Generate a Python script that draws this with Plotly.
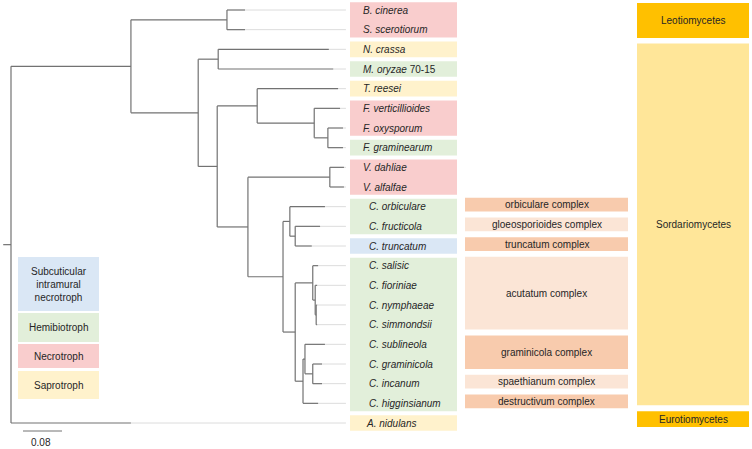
import plotly.graph_objects as go

# ---------------- data ----------------
leaves = ["B. cinerea", "S. scerotiorum", "N. crassa", "M. oryzae 70-15", "T. reesei",
          "F. verticillioides", "F. oxysporum", "F. graminearum", "V. dahliae", "V. alfalfae",
          "C. orbiculare", "C. fructicola", "C. truncatum", "C. salisic", "C. fioriniae",
          "C. nymphaeae", "C. simmondsii", "C. sublineola", "C. graminicola", "C. incanum",
          "C. higginsianum", "A. nidulans"]

lifestyle = ["Necrotroph", "Necrotroph", "Saprotroph", "Hemibiotroph", "Saprotroph",
             "Necrotroph", "Necrotroph", "Hemibiotroph", "Necrotroph", "Necrotroph",
             "Hemibiotroph", "Hemibiotroph", "Subcuticular", "Hemibiotroph", "Hemibiotroph",
             "Hemibiotroph", "Hemibiotroph", "Hemibiotroph", "Hemibiotroph", "Hemibiotroph",
             "Hemibiotroph", "Saprotroph"]

# tree edges: child, parent, branch length
edge_child = ["ingroup", "A. nidulans",
              "leotio", "sordario",
              "B. cinerea", "S. scerotiorum",
              "nm", "rest",
              "N. crassa", "M. oryzae 70-15",
              "tf", "vc",
              "T. reesei", "fus",
              "F. verticillioides", "fus2",
              "F. oxysporum", "F. graminearum",
              "vert", "coll",
              "V. dahliae", "V. alfalfae",
              "ca", "cd",
              "C. orbiculare", "cb",
              "C. fructicola", "C. truncatum",
              "acut", "gd",
              "C. salisic", "acb",
              "C. fioriniae", "acc",
              "C. nymphaeae", "C. simmondsii",
              "ge", "C. higginsianum",
              "C. sublineola", "gf",
              "C. graminicola", "C. incanum"]
edge_parent = ["root", "root",
               "ingroup", "ingroup",
               "leotio", "leotio",
               "sordario", "sordario",
               "nm", "nm",
               "rest", "rest",
               "tf", "tf",
               "fus", "fus",
               "fus2", "fus2",
               "vc", "vc",
               "vert", "vert",
               "coll", "coll",
               "ca", "ca",
               "cb", "cb",
               "cd", "cd",
               "acut", "acut",
               "acb", "acb",
               "acc", "acc",
               "gd", "gd",
               "ge", "ge",
               "gf", "gf"]
edge_length = [0.246, 0.246,
               0.197, 0.138,
               0.037, 0.037,
               0.041, 0.039,
               0.227, 0.236,
               0.082, 0.063,
               0.166, 0.117,
               0.053, 0.028,
               0.031, 0.031,
               0.168, 0.072,
               0.029, 0.029,
               0.014, 0.025,
               0.072, 0.011,
               0.051, 0.034,
               0.036, 0.016,
               0.011, 0.005,
               0.004, 0.002,
               0.002, 0.002,
               0.004, 0.031,
               0.041, 0.016,
               0.019, 0.019]
root_stem = 0.016
align_to = 0.687      # end of the light alignment lines
scale_bar = 0.08

complexes = ["orbiculare complex", "gloeosporioides complex", "truncatum complex",
             "acutatum complex", "graminicola complex", "spaethianum complex",
             "destructivum complex"]
complex_first = ["C. orbiculare", "C. fructicola", "C. truncatum", "C. salisic",
                 "C. sublineola", "C. incanum", "C. higginsianum"]
complex_last = ["C. orbiculare", "C. fructicola", "C. truncatum", "C. simmondsii",
                "C. graminicola", "C. incanum", "C. higginsianum"]
complex_shade = ["dark", "light", "dark", "light", "dark", "light", "dark"]

classes = ["Leotiomycetes", "Sordariomycetes", "Eurotiomycetes"]
class_first = ["B. cinerea", "N. crassa", "A. nidulans"]
class_last = ["S. scerotiorum", "C. higginsianum", "A. nidulans"]

legend_keys = ["Subcuticular", "Hemibiotroph", "Necrotroph", "Saprotroph"]
legend_text = ["Subcuticular<br>intramural<br>necrotroph", "Hemibiotroph", "Necrotroph", "Saprotroph"]

# ---------------- style ----------------
W, H = 752, 449
LIFE_COL = {"Subcuticular": "#DAE7F5", "Hemibiotroph": "#E2EFDA",
            "Necrotroph": "#F9CDCD", "Saprotroph": "#FFF2CC"}
CPLX_COL = {"dark": "#F8CBAD", "light": "#FBE5D6"}
CLASS_COL = {"Leotiomycetes": "#FFC000", "Sordariomycetes": "#FFE699", "Eurotiomycetes": "#FFC000"}
CLASS_PAD = [(0.36, 0.42), (0.3, 0.1), (0.6, 0.2)]   # (top, bottom) padding in rows
TXT = "#262626"
FONT = "Liberation Sans, Arial, sans-serif"
PX = 0.08 / 39.0          # data units per pixel
X0_PX = 11                # pixel of root
LEAF0_PX, LEAF_STEP = 10, 19.667
LEGEND_Y = [(257, 311), (313, 342), (344, 368), (371, 399)]

def pxx(p):
    return p / W

def pxy(p):
    return 1 - p / H

# ---------------- tree geometry ----------------
children = {}
blen = {}
for c, p, l in zip(edge_child, edge_parent, edge_length):
    children.setdefault(p, []).append(c)
    blen[c] = l

depth = {"root": 0.0}
ypos = {}

def walk(n):
    for c in children.get(n, []):
        depth[c] = depth[n] + blen[c]
        walk(c)

walk("root")

def gety(n):
    if n in ypos:
        return ypos[n]
    if n in leaves:
        ypos[n] = leaves.index(n)
    else:
        ys = [gety(c) for c in children[n]]
        ypos[n] = (min(ys) + max(ys)) / 2
    return ypos[n]

gety("root")

bx, by = [], []
for n in depth:
    y = ypos[n]
    if n == "root":
        bx += [-root_stem, 0, None]
        by += [y, y, None]
    else:
        p = edge_parent[edge_child.index(n)]
        bx += [depth[p], depth[n], None]
        by += [y, y, None]
    if n in children:
        ys = [ypos[c] for c in children[n]]
        bx += [depth[n], depth[n], None]
        by += [min(ys), max(ys), None]

ex, ey = [], []
for lf in leaves:
    ex += [depth[lf], align_to, None]
    ey += [ypos[lf], ypos[lf], None]

fig = go.Figure()
fig.add_trace(go.Scatter(x=ex, y=ey, mode="lines", line=dict(color="#DCDCDC", width=1),
                         hoverinfo="skip", showlegend=False))
fig.add_trace(go.Scatter(x=bx, y=by, mode="lines", line=dict(color="#727272", width=1.2),
                         hoverinfo="skip", showlegend=False))

shapes = []
annots = []

# lifestyle boxes (runs of same lifestyle)
runs = []
start = 0
for i in range(1, len(leaves) + 1):
    if i == len(leaves) or lifestyle[i] != lifestyle[start]:
        runs.append((start, i - 1, lifestyle[start]))
        start = i
for a, b, k in runs:
    shapes.append(dict(type="rect", xref="paper", yref="y", x0=pxx(350), x1=pxx(457),
                       y0=a - 0.4, y1=b + 0.4, fillcolor=LIFE_COL[k], line=dict(width=0),
                       layer="below"))

for i, lf in enumerate(leaves):
    if lf.startswith("M. oryzae"):
        t = "<i>M. oryzae</i> 70-15"
    else:
        t = "<i>%s</i>" % lf
    if lf.startswith("C."):
        xoff = 367
    elif lf.startswith("A."):
        xoff = 364
    else:
        xoff = 361
    annots.append(dict(x=pxx(xoff), y=i, xref="paper", yref="y", text=t, showarrow=False,
                       xanchor="left", yanchor="middle", font=dict(size=10, color=TXT, family=FONT)))

# complexes
for name, f, l, s in zip(complexes, complex_first, complex_last, complex_shade):
    a, b = leaves.index(f), leaves.index(l)
    y0, y1 = a - 0.45, b + 0.25
    shapes.append(dict(type="rect", xref="paper", yref="y", x0=pxx(465), x1=pxx(628),
                       y0=y0, y1=y1, fillcolor=CPLX_COL[s], line=dict(width=0), layer="below"))
    annots.append(dict(x=pxx(546.5), y=(y0 + y1) / 2, xref="paper", yref="y", text=name,
                       showarrow=False, xanchor="center", yanchor="middle",
                       font=dict(size=10, color=TXT, family=FONT)))

# classes
for name, f, l, (pt, pb) in zip(classes, class_first, class_last, CLASS_PAD):
    a, b = leaves.index(f), leaves.index(l)
    y0, y1 = a - pt, b + pb
    shapes.append(dict(type="rect", xref="paper", yref="y", x0=pxx(637), x1=pxx(749),
                       y0=y0, y1=y1, fillcolor=CLASS_COL[name], line=dict(width=0), layer="below"))
    annots.append(dict(x=pxx(693), y=(y0 + y1) / 2, xref="paper", yref="y", text=name,
                       showarrow=False, xanchor="center", yanchor="middle",
                       font=dict(size=10, color=TXT, family=FONT)))

# legend
for k, t, (t0, t1) in zip(legend_keys, legend_text, LEGEND_Y):
    shapes.append(dict(type="rect", xref="paper", yref="paper", x0=pxx(18), x1=pxx(99),
                       y0=pxy(t1), y1=pxy(t0), fillcolor=LIFE_COL[k], line=dict(width=0),
                       layer="below"))
    annots.append(dict(x=pxx(58.5), y=pxy((t0 + t1) / 2), xref="paper", yref="paper", text=t,
                       showarrow=False, xanchor="center", yanchor="middle",
                       font=dict(size=10, color=TXT, family=FONT)))

# scale bar
sb0 = (23 - X0_PX) * PX
shapes.append(dict(type="line", xref="x", yref="paper", x0=sb0, x1=sb0 + scale_bar,
                   y0=pxy(431), y1=pxy(431), line=dict(color="#727272", width=1)))
annots.append(dict(x=sb0 + scale_bar / 2 - 2 * PX, y=pxy(442), xref="x", yref="paper",
                   text="%g" % scale_bar, showarrow=False, xanchor="center", yanchor="middle",
                   font=dict(size=10, color=TXT, family=FONT)))

fig.update_layout(
    width=W, height=H, margin=dict(l=0, r=0, t=0, b=0),
    paper_bgcolor="white", plot_bgcolor="white",
    xaxis=dict(range=[-X0_PX * PX, (W - X0_PX) * PX], visible=False, fixedrange=True),
    yaxis=dict(range=[(H - LEAF0_PX) / LEAF_STEP, -LEAF0_PX / LEAF_STEP], visible=False,
               fixedrange=True),
    shapes=shapes, annotations=annots, showlegend=False,
)

fig.write_html("out.html", config={"displayModeBar": False},
               post_script="document.body.style.margin='0px';document.body.style.overflow='hidden';")
